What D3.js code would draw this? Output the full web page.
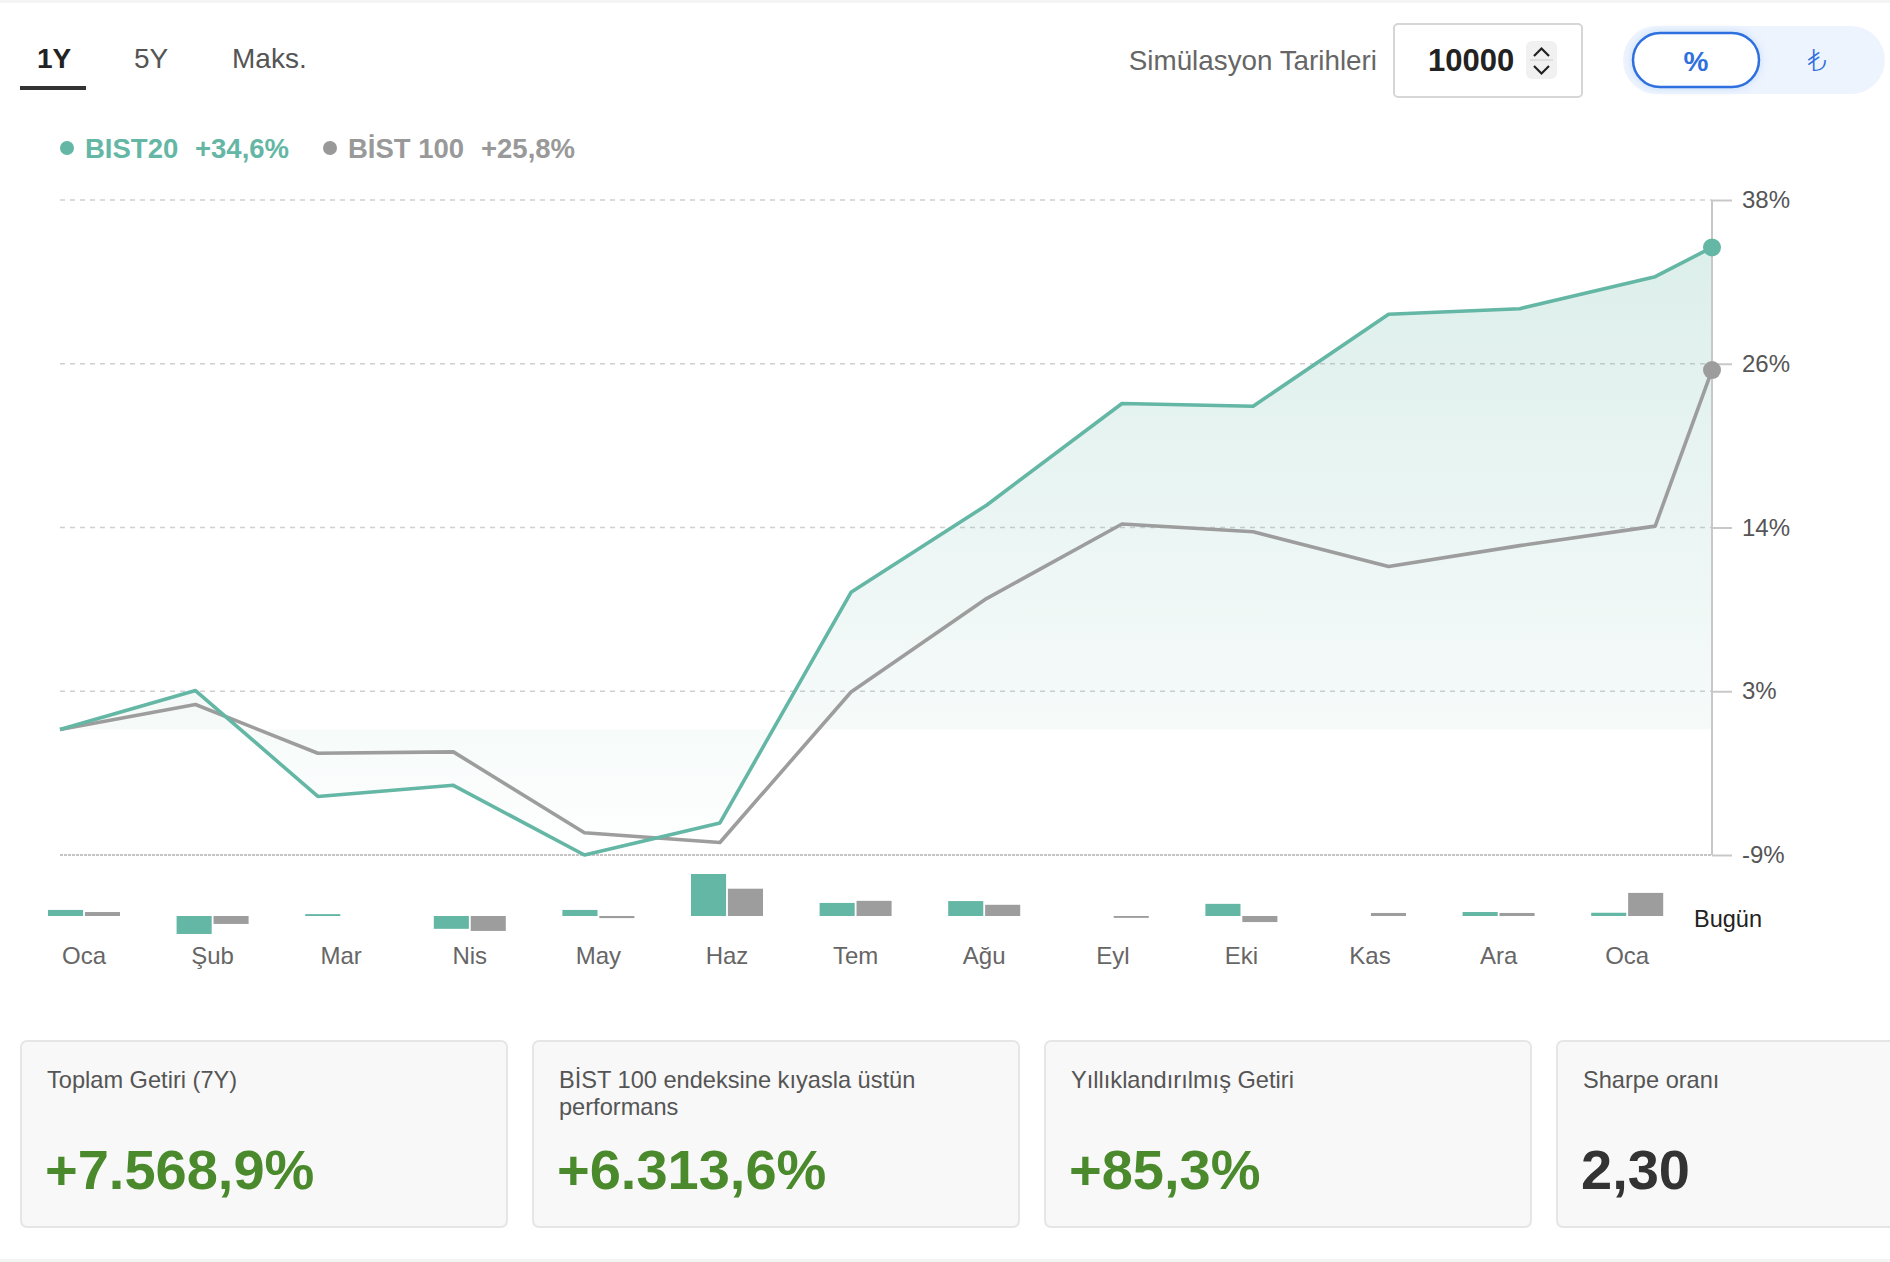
<!DOCTYPE html>
<html>
<head>
<meta charset="utf-8">
<script src="https://cdn.jsdelivr.net/npm/d3@7"></script>
<style>
  body { margin: 0; background: #fff; }
  svg { display: block; font-family: "Liberation Sans", Arial, "DejaVu Sans", sans-serif; }
</style>
</head>
<body>
<div id="chart"></div>
<script>
// data
var pointDates = ["2025-01-01", "2025-02-01", "2025-03-01", "2025-04-01", "2025-05-01", "2025-06-01",
  "2025-07-01", "2025-08-01", "2025-09-01", "2025-10-01", "2025-11-01", "2025-12-01", "2026-01-01", "2026-01-14"];
var bist20 = [0, 2.8, -4.8, -4.0, -9.0, -6.7, 9.85, 16.1, 23.4, 23.2, 29.8, 30.2, 32.5, 34.6];
var bist100 = [0, 1.8, -1.7, -1.6, -7.4, -8.1, 2.7, 9.4, 14.75, 14.2, 11.7, 13.2, 14.6, 25.8];

var months = ["Oca", "Şub", "Mar", "Nis", "May", "Haz", "Tem", "Ağu", "Eyl", "Eki", "Kas", "Ara", "Oca"];
var bist20Monthly = [2.6, -7.7, 0.8, -5.5, 2.6, 18.0, 5.6, 6.4, 0, 5.2, 0, 1.7, 1.4];
var bist100Monthly = [1.7, -3.4, 0, -6.4, -0.9, 11.7, 6.5, 4.8, -0.8, -2.6, 1.3, 1.3, 9.9];

var yTicks = [-9, 2.75, 14.5, 26.25, 38];
var yTickLabels = ["-9%", "3%", "14%", "26%", "38%"];

var tabs = ["1Y", "5Y", "Maks."];
var legendNames = ["BIST20", "BİST 100"];
var legendValues = ["+34,6%", "+25,8%"];

var cardTitles = [["Toplam Getiri (7Y)"], ["BİST 100 endeksine kıyasla üstün", "performans"], ["Yıllıklandırılmış Getiri"], ["Sharpe oranı"]];
var cardValues = ["+7.568,9%", "+6.313,6%", "+85,3%", "2,30"];

var teal = "#64b6a5";
var gray = "#9d9d9d";

var svgWidth = 1890;
var svgHeight = 1262;

var svg = d3.select("#chart")
  .append("svg")
  .attr("width", svgWidth)
  .attr("height", svgHeight);

// faint page edges
svg.append("rect").attr("x", 0).attr("y", 0).attr("width", svgWidth).attr("height", 3).attr("fill", "#f4f4f4");
svg.append("rect").attr("x", 0).attr("y", 1259).attr("width", svgWidth).attr("height", 3).attr("fill", "#f4f4f4");

// ---- top controls ----
var tabX = [37, 134, 232];
svg.selectAll(".tab")
  .data(tabs)
  .enter()
  .append("text")
  .attr("class", "tab")
  .attr("x", (d, i) => tabX[i])
  .attr("y", 68)
  .attr("font-size", "28px")
  .attr("font-weight", (d, i) => i === 0 ? "bold" : "normal")
  .attr("fill", (d, i) => i === 0 ? "#222" : "#555")
  .text(d => d);

svg.append("rect")
  .attr("x", 20).attr("y", 86).attr("width", 66).attr("height", 4)
  .attr("fill", "#333");

svg.append("text")
  .attr("x", 1377).attr("y", 70)
  .attr("text-anchor", "end")
  .attr("font-size", "27.8px")
  .attr("fill", "#666")
  .text("Simülasyon Tarihleri");

// input box
svg.append("rect")
  .attr("x", 1394).attr("y", 24).attr("width", 188).attr("height", 73)
  .attr("rx", 4)
  .attr("fill", "#fff")
  .attr("stroke", "#d6d6d6")
  .attr("stroke-width", 2);

svg.append("text")
  .attr("x", 1428).attr("y", 71)
  .attr("font-size", "31px")
  .attr("font-weight", "bold")
  .attr("fill", "#222")
  .text("10000");

svg.append("rect")
  .attr("x", 1526).attr("y", 41).attr("width", 31).attr("height", 38)
  .attr("rx", 6)
  .attr("fill", "#f1f1f1");
svg.append("line")
  .attr("x1", 1530).attr("x2", 1553).attr("y1", 60).attr("y2", 60)
  .attr("stroke", "#d8d8d8").attr("stroke-width", 1.5);
svg.append("path")
  .attr("d", "M1534,56 L1541.5,48.5 L1549,56 M1534,66 L1541.5,73.5 L1549,66")
  .attr("fill", "none")
  .attr("stroke", "#222")
  .attr("stroke-width", 2.2);

// % / ₺ toggle
svg.append("rect")
  .attr("x", 1623).attr("y", 26).attr("width", 262).attr("height", 68)
  .attr("rx", 34)
  .attr("fill", "#eef4fe");

var defs = svg.append("defs");
var glow = defs.append("filter").attr("id", "glow").attr("x", "-20%").attr("y", "-30%").attr("width", "140%").attr("height", "160%");
glow.append("feDropShadow").attr("dx", 0).attr("dy", 0).attr("stdDeviation", 4).attr("flood-color", "#2f6fde").attr("flood-opacity", 0.18);

svg.append("rect")
  .attr("x", 1633).attr("y", 33).attr("width", 126).attr("height", 54)
  .attr("rx", 27)
  .attr("fill", "#fff")
  .attr("stroke", "#2f6fde")
  .attr("stroke-width", 2.5)
  .attr("filter", "url(#glow)");

svg.append("text")
  .attr("x", 1696).attr("y", 71)
  .attr("text-anchor", "middle")
  .attr("font-size", "28px")
  .attr("font-weight", "bold")
  .attr("fill", "#2f6fde")
  .text("%");

svg.append("text")
  .attr("x", 1817).attr("y", 71)
  .attr("text-anchor", "middle")
  .attr("font-size", "30px")
  .attr("font-family", "'DejaVu Sans', sans-serif")
  .attr("font-weight", "300")
  .attr("fill", "#2f6fde")
  .text("₺");

// ---- legend ----
var legendColors = [teal, "#999"];
var legendDotX = [67, 330];
var legendNameX = [85, 348];
var legendValX = [195, 481];

var legend = svg.selectAll(".legend")
  .data(legendNames)
  .enter()
  .append("g")
  .attr("class", "legend");

legend.append("circle")
  .attr("cx", (d, i) => legendDotX[i])
  .attr("cy", 148)
  .attr("r", 7)
  .attr("fill", (d, i) => legendColors[i]);

legend.append("text")
  .attr("x", (d, i) => legendNameX[i])
  .attr("y", 158)
  .attr("font-size", "27.5px")
  .attr("font-weight", "bold")
  .attr("fill", (d, i) => legendColors[i])
  .text(d => d);

legend.append("text")
  .attr("x", (d, i) => legendValX[i])
  .attr("y", 158)
  .attr("font-size", "27.5px")
  .attr("font-weight", "bold")
  .attr("fill", (d, i) => legendColors[i])
  .text((d, i) => legendValues[i]);

// ---- line chart ----
var parseDate = d3.timeParse("%Y-%m-%d");
var lineData = pointDates.map((d, i) => ({ date: parseDate(d), a: bist20[i], b: bist100[i] }));

var xTime = d3.scaleTime()
  .domain(d3.extent(lineData, d => d.date))
  .range([60, 1712]);

var yLinear = d3.scaleLinear()
  .domain([-9, 38])
  .range([855, 200]);

// gridlines
svg.selectAll(".grid")
  .data(yTicks)
  .enter()
  .append("line")
  .attr("class", "grid")
  .attr("x1", 60)
  .attr("x2", 1712)
  .attr("y1", d => yLinear(d))
  .attr("y2", d => yLinear(d))
  .attr("stroke", (d, i) => i === 0 ? "#c4c4c4" : "#d0d0d0")
  .attr("stroke-width", (d, i) => i === 0 ? 2 : 1.5)
  .attr("stroke-dasharray", (d, i) => i === 0 ? "3,1" : "5,5");

// gradient under the BIST20 line
var grad = defs.append("linearGradient")
  .attr("id", "areaGrad")
  .attr("gradientUnits", "userSpaceOnUse")
  .attr("x1", 0).attr("x2", 0)
  .attr("y1", yLinear(38)).attr("y2", yLinear(-9));
grad.append("stop").attr("offset", "0%").attr("stop-color", teal).attr("stop-opacity", 0.24);
grad.append("stop").attr("offset", "80%").attr("stop-color", teal).attr("stop-opacity", 0.06);
grad.append("stop").attr("offset", "100%").attr("stop-color", teal).attr("stop-opacity", 0.0);

var area = d3.area()
  .x(d => xTime(d.date))
  .y0(yLinear(0))
  .y1(d => yLinear(d.a));

svg.append("path")
  .datum(lineData)
  .attr("d", area)
  .attr("fill", "url(#areaGrad)");

// right axis
var rightAxis = d3.axisRight(yLinear)
  .tickValues(yTicks)
  .tickSize(20)
  .tickPadding(10)
  .tickFormat((d, i) => yTickLabels[i]);

var yAxis = svg.append("g")
  .attr("transform", "translate(1712, 0)")
  .call(rightAxis);

yAxis.select(".domain").attr("stroke", "#c8c8c8").attr("stroke-width", 2).attr("d", "M0,200V855");
yAxis.selectAll(".tick line").attr("stroke", "#c8c8c8").attr("stroke-width", 2);
yAxis.selectAll(".tick text")
  .attr("font-size", "24px")
  .attr("font-family", "'Liberation Sans', Arial, sans-serif")
  .attr("fill", "#555");

var lineA = d3.line().x(d => xTime(d.date)).y(d => yLinear(d.a));
var lineB = d3.line().x(d => xTime(d.date)).y(d => yLinear(d.b));

svg.append("path")
  .datum(lineData)
  .attr("d", lineB)
  .attr("fill", "none")
  .attr("stroke", gray)
  .attr("stroke-width", 3.6)
  .attr("stroke-linejoin", "round");

svg.append("path")
  .datum(lineData)
  .attr("d", lineA)
  .attr("fill", "none")
  .attr("stroke", teal)
  .attr("stroke-width", 3.6)
  .attr("stroke-linejoin", "round");

var last = lineData[lineData.length - 1];
svg.append("circle")
  .attr("cx", xTime(last.date)).attr("cy", yLinear(last.b))
  .attr("r", 9).attr("fill", gray);
svg.append("circle")
  .attr("cx", xTime(last.date)).attr("cy", yLinear(last.a))
  .attr("r", 9).attr("fill", teal);

// ---- monthly bars ----
var xBand = d3.scaleBand()
  .domain(d3.range(months.length))
  .range([19.7, 19.7 + 13 * 128.6])
  .padding(0);

var xInner = d3.scaleBand()
  .domain(["a", "b"])
  .range([0, 72])
  .paddingInner(0.05);

var yBar = d3.scaleLinear()
  .domain([-18, 18])
  .range([916 + 42, 916 - 42]);

var barGroups = svg.selectAll(".month")
  .data(months)
  .enter()
  .append("g")
  .attr("class", "month")
  .attr("transform", (d, i) => `translate(${xBand(i) + xBand.bandwidth() / 2 - 36}, 0)`);

barGroups.append("rect")
  .attr("x", xInner("a"))
  .attr("width", xInner.bandwidth())
  .attr("y", (d, i) => Math.min(yBar(bist20Monthly[i]), yBar(0)))
  .attr("height", (d, i) => Math.abs(yBar(bist20Monthly[i]) - yBar(0)))
  .attr("fill", teal);

barGroups.append("rect")
  .attr("x", xInner("b"))
  .attr("width", xInner.bandwidth())
  .attr("y", (d, i) => Math.min(yBar(bist100Monthly[i]), yBar(0)))
  .attr("height", (d, i) => Math.abs(yBar(bist100Monthly[i]) - yBar(0)))
  .attr("fill", gray);

barGroups.append("text")
  .attr("x", 36)
  .attr("y", 964)
  .attr("text-anchor", "middle")
  .attr("font-size", "24px")
  .attr("fill", "#666")
  .text(d => d);

svg.append("text")
  .attr("x", 1694).attr("y", 927)
  .attr("font-size", "23.5px")
  .attr("fill", "#222")
  .text("Bugün");

// ---- stat cards ----
var cardX = [21, 533, 1045, 1557];
var cards = svg.selectAll(".card")
  .data(cardValues)
  .enter()
  .append("g")
  .attr("class", "card")
  .attr("transform", (d, i) => `translate(${cardX[i]}, 1041)`);

cards.append("rect")
  .attr("width", 486)
  .attr("height", 186)
  .attr("rx", 6)
  .attr("fill", "#f8f8f8")
  .attr("stroke", "#e6e6e6")
  .attr("stroke-width", 2);

cards.each(function(d, i) {
  var g = d3.select(this);
  cardTitles[i].forEach(function(t, j) {
    g.append("text")
      .attr("x", 26)
      .attr("y", 47 + j * 27)
      .attr("font-size", "23.6px")
      .attr("fill", "#555")
      .text(t);
  });
});

cards.append("text")
  .attr("x", 24)
  .attr("y", 148)
  .attr("font-size", "56px")
  .attr("font-weight", "bold")
  .attr("fill", (d, i) => i === 3 ? "#333" : "#4a8a2c")
  .text(d => d);
</script>
</body>
</html>
